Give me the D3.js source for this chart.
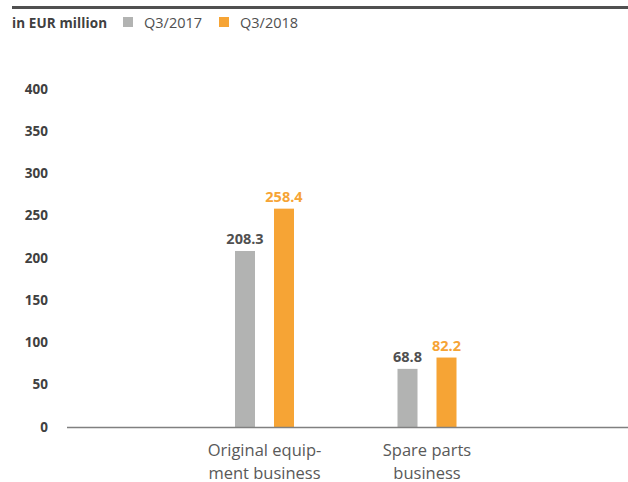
<!DOCTYPE html>
<html>
<head>
<meta charset="utf-8">
<script src="https://cdn.jsdelivr.net/npm/d3@7"></script>
<style>
  body { margin: 0; background: #fff; }
  svg { display: block; }
</style>
</head>
<body>
<div id="chart"></div>
<script>
const width = 628, height = 482;

const categories = [["Original equip-", "ment business"], ["Spare parts", "business"]];
const series = ["Q3/2017", "Q3/2018"];
const q2017 = [208.3, 68.8];
const q2018 = [258.4, 82.2];
const yTicks = [0, 50, 100, 150, 200, 250, 300, 350, 400];

const colors = { "Q3/2017": "#b2b3b2", "Q3/2018": "#f6a435" };
const labelColors = { "Q3/2017": "#505050", "Q3/2018": "#f6a435" };
const font = "'Open Sans', sans-serif";

const rows = categories.map(function(c, i) {
    return { key: c.join(" "), lines: c, values: [
        { s: "Q3/2017", v: q2017[i] },
        { s: "Q3/2018", v: q2018[i] }
    ]};
});

const svg = d3.select("#chart").append("svg")
    .attr("width", width)
    .attr("height", height)
    .attr("font-family", font);

// top rule
svg.append("line")
    .attr("x1", 12).attr("x2", width)
    .attr("y1", 7.5).attr("y2", 7.5)
    .attr("stroke", "#505050")
    .attr("stroke-width", 3);

// unit + legend
svg.append("text")
    .attr("x", 12).attr("y", 28)
    .attr("font-size", 13.5)
    .attr("font-weight", "bold")
    .attr("fill", "#404040")
    .attr("textLength", 95)
    .text("in EUR million");

const legendX = [123, 219];
const legend = svg.append("g").selectAll("g")
    .data(series)
    .join("g")
    .attr("transform", function(d, i) { return `translate(${legendX[i]},17)`; });
legend.append("rect")
    .attr("width", 10).attr("height", 10)
    .attr("fill", function(d) { return colors[d]; });
legend.append("text")
    .attr("x", 21).attr("y", 11)
    .attr("font-size", 14.5)
    .attr("fill", "#505050")
    .text(function(d) { return d; });

const y = d3.scaleLinear().domain([0, 400]).range([427, 89]);
const x0 = d3.scaleBand()
    .domain(rows.map(function(d) { return d.key; }))
    .range([183.25, 508.25]);
const x1 = d3.scaleBand()
    .domain(series)
    .range([x0.bandwidth() / 2 - 29.5, x0.bandwidth() / 2 + 29.5])
    .paddingInner(0.487);

// y tick labels
svg.append("g").selectAll("text")
    .data(yTicks)
    .join("text")
    .attr("x", 48)
    .attr("y", function(d) { return y(d); })
    .attr("dy", "0.35em")
    .attr("text-anchor", "end")
    .attr("font-size", 13.5)
    .attr("font-weight", "bold")
    .attr("fill", "#404040")
    .text(function(d) { return d; });

const groups = svg.append("g").selectAll("g")
    .data(rows)
    .join("g")
    .attr("transform", function(d) { return `translate(${x0(d.key)},0)`; });

groups.selectAll("rect")
    .data(function(d) { return d.values; })
    .join("rect")
    .attr("x", function(d) { return x1(d.s); })
    .attr("width", x1.bandwidth())
    .attr("y", function(d) { return y(d.v); })
    .attr("height", function(d) { return y(0) - y(d.v); })
    .attr("fill", function(d) { return colors[d.s]; });

groups.selectAll("text.val")
    .data(function(d) { return d.values; })
    .join("text")
    .attr("class", "val")
    .attr("x", function(d) { return x1(d.s) + x1.bandwidth() / 2; })
    .attr("y", function(d) { return y(d.v) - 7; })
    .attr("text-anchor", "middle")
    .attr("font-size", 14.5)
    .attr("font-weight", "bold")
    .attr("fill", function(d) { return labelColors[d.s]; })
    .text(function(d) { return d.v.toFixed(1); });

// baseline
svg.append("line")
    .attr("x1", 67).attr("x2", width)
    .attr("y1", y(0) + 0.5).attr("y2", y(0) + 0.5)
    .attr("stroke", "#808080")
    .attr("stroke-width", 1.5);

// category labels, one text per line
groups.selectAll("text.cat")
    .data(function(d) { return d.lines; })
    .join("text")
    .attr("class", "cat")
    .attr("x", x0.bandwidth() / 2)
    .attr("y", function(d, i) { return 456 + i * 22.5; })
    .attr("text-anchor", "middle")
    .attr("font-size", 16.5)
    .attr("fill", "#595959")
    .text(function(d) { return d; });
</script>
</body>
</html>
